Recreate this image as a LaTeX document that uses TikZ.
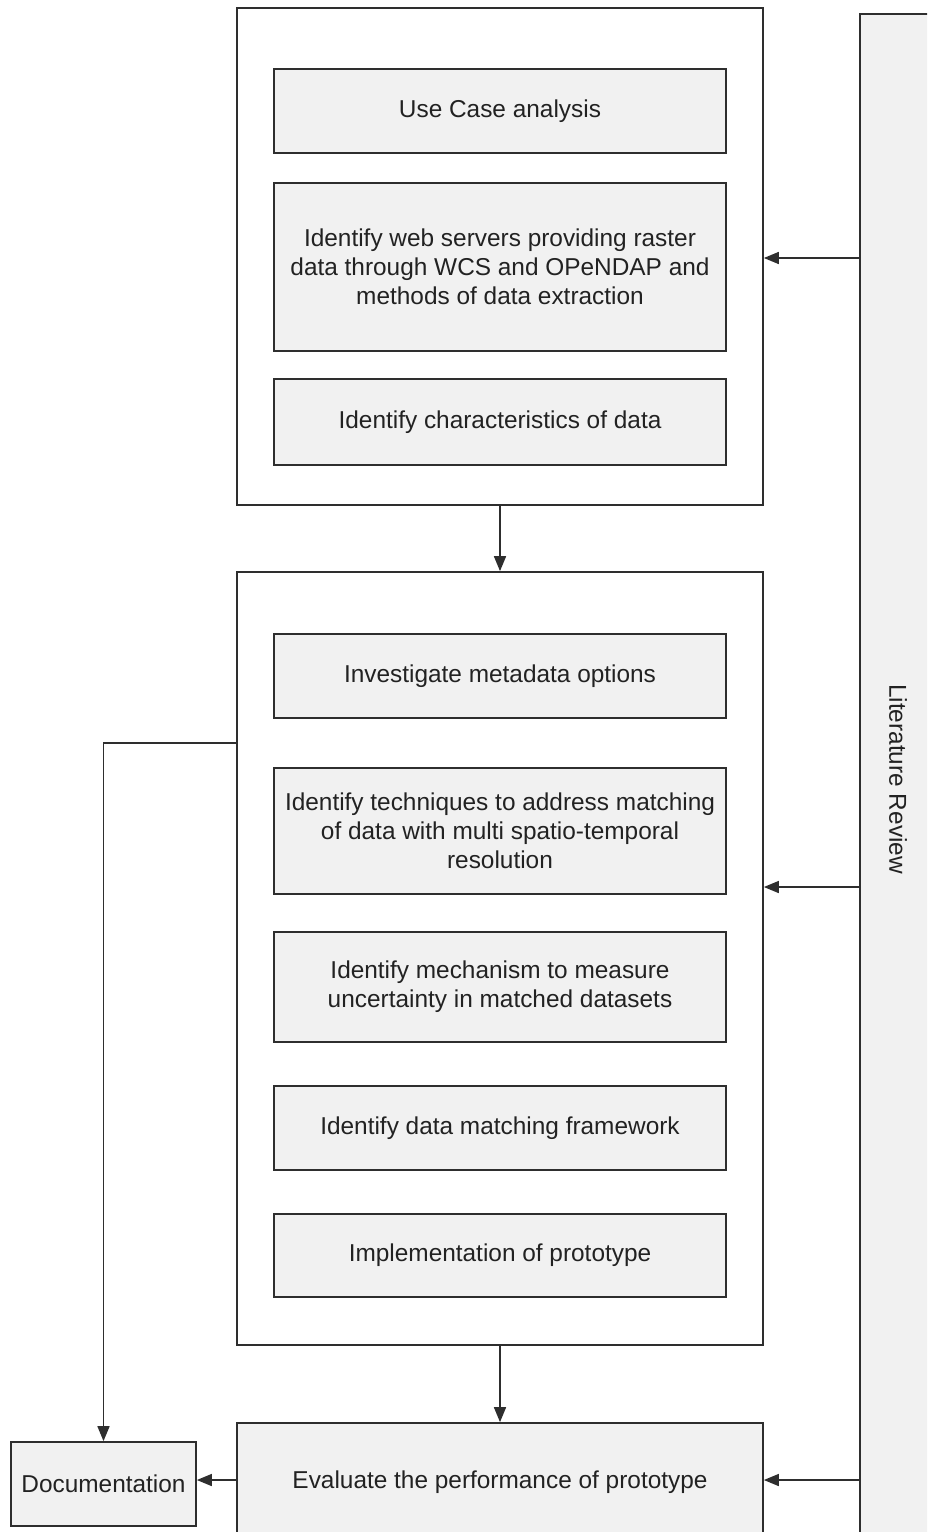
\documentclass[tikz,border=0pt]{standalone}
\usepackage{fontspec}
\setmainfont{Liberation Sans}
\usepackage{graphicx}
\usetikzlibrary{arrows.meta,calc}
\definecolor{boxfill}{HTML}{F1F1F1}
\definecolor{edge}{HTML}{2E2E2E}
\definecolor{ink}{HTML}{222222}
\tikzset{
  box/.style={draw=edge, line width=1.7pt, fill=boxfill, text=ink,
    align=center, inner sep=0pt, font=\fontsize{24.4}{29}\selectfont},
  frame/.style={draw=edge, line width=1.7pt, fill=white, inner sep=0pt},
  arr/.style={draw=edge, line width=1.6pt,
    -{Triangle[length=15pt,width=12pt]}},
}
\begin{document}
\begin{tikzpicture}[x=1pt,y=-1pt]
\useasboundingbox (0,0) rectangle (927,1532);
\begin{scope}
\clip (0,0) rectangle (927,1532);

% literature review column on the right
\node[box, minimum width=76pt, minimum height=1530pt] (lit) at (898,779)
  {\rotatebox{-90}{Literature Review}};

% first stage
\node[frame, minimum width=526pt, minimum height=497pt] (top) at (500,256.5) {};
\node[box, minimum width=452pt, minimum height=84pt] (uc) at (500,111) {Use Case analysis};
\node[box, minimum width=452pt, minimum height=168pt] (ws) at (500,267)
  {Identify web servers providing raster\\data through WCS and OPeNDAP and\\methods of data extraction};
\node[box, minimum width=452pt, minimum height=86pt] (ch) at (500,422) {Identify characteristics of data};

% second stage
\node[frame, minimum width=526pt, minimum height=773pt] (mid) at (500,958.5) {};
\node[box, minimum width=452pt, minimum height=84pt] (md) at (500,676) {Investigate metadata options};
\node[box, minimum width=452pt, minimum height=126pt] (tm) at (500,831)
  {Identify techniques to address matching\\of data with multi spatio-temporal\\resolution};
\node[box, minimum width=452pt, minimum height=110pt] (un) at (500,987)
  {Identify mechanism to measure\\uncertainty in matched datasets};
\node[box, minimum width=452pt, minimum height=84pt] (fw) at (500,1128) {Identify data matching framework};
\node[box, minimum width=452pt, minimum height=83pt] (pr) at (500,1255.5) {Implementation of prototype};

% evaluation and documentation
\node[box, minimum width=526pt, minimum height=120pt] (ev) at (500,1483)
  {\raisebox{7pt}{Evaluate the performance of prototype}};
\node[box, minimum width=185pt, minimum height=84pt] (doc) at (103.5,1484) {Documentation};

% connectors
\draw[arr] (top.south) -- (mid.north);
\draw[arr] (mid.south) -- (ev.north);
\draw[arr] (lit.west |- 0,258) -- (top.east |- 0,258);
\draw[arr] (lit.west |- 0,887) -- (mid.east |- 0,887);
\draw[arr] (lit.west |- 0,1480) -- (ev.east |- 0,1480);
\draw[arr] (ev.west |- 0,1480) -- (doc.east |- 0,1480);
\draw[arr] (mid.west |- 0,743) -| (doc.north);
\end{scope}
\end{tikzpicture}
\end{document}
